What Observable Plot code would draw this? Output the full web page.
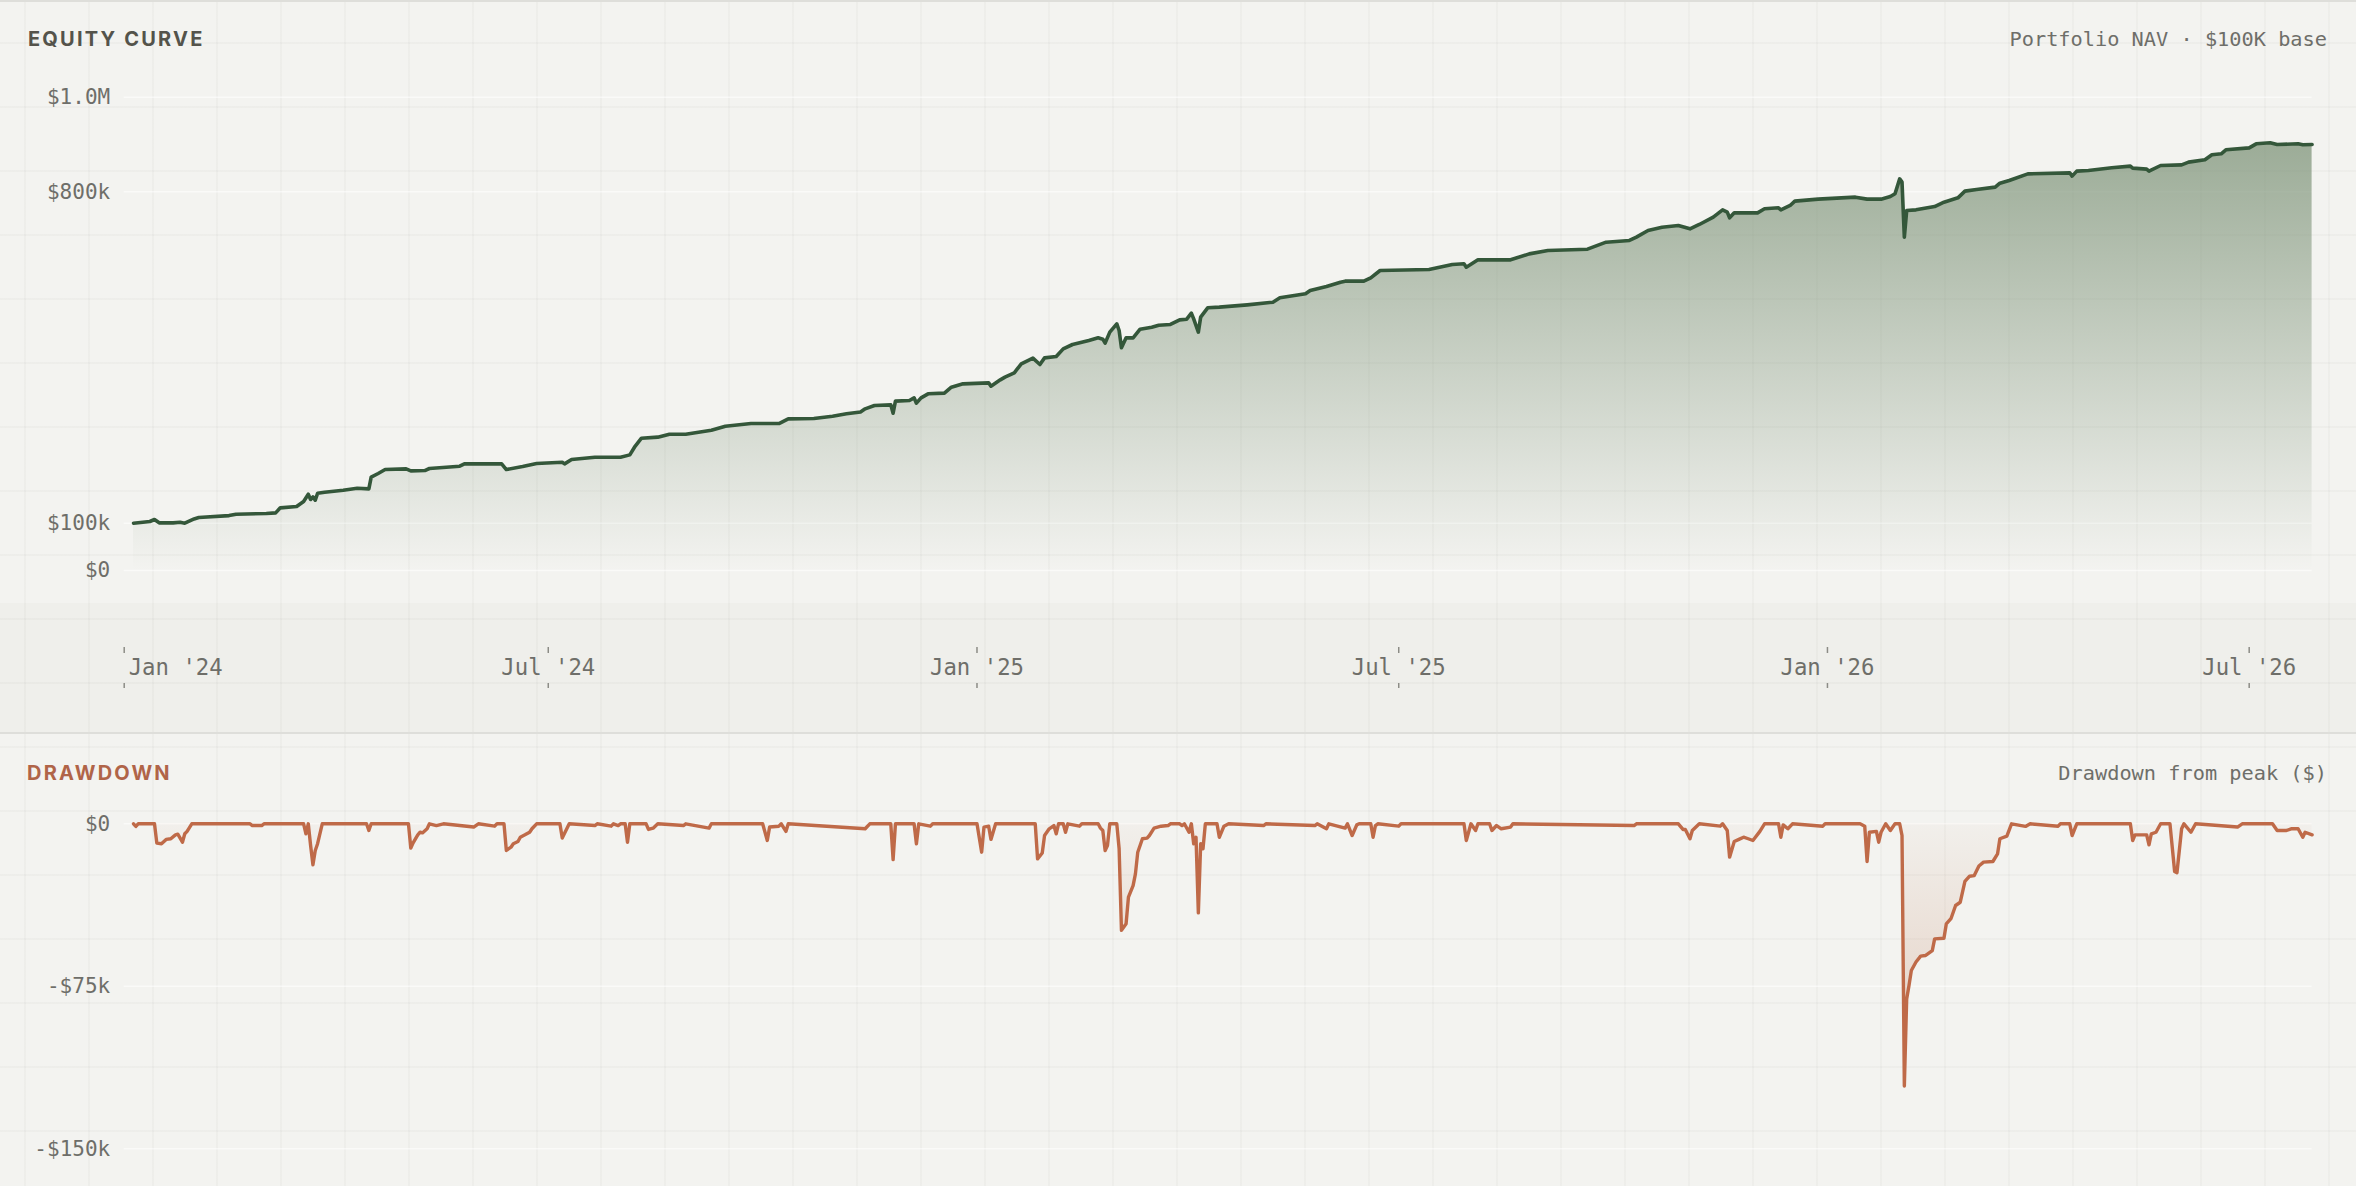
<!DOCTYPE html>
<html>
<head>
<meta charset="utf-8">
<script src="https://cdn.jsdelivr.net/npm/d3@7"></script>
<script src="https://cdn.jsdelivr.net/npm/@observablehq/plot@0.6"></script>
<style>
  html, body { margin: 0; padding: 0; width: 2356px; height: 1186px; overflow: hidden; }
  body {
    position: relative;
    background-color: #f3f3f0;
    background-image:
      linear-gradient(to right, rgba(60,60,40,0.028) 0, rgba(60,60,40,0.028) 2px, transparent 2px),
      linear-gradient(to bottom, rgba(60,60,40,0.028) 0, rgba(60,60,40,0.028) 2px, transparent 2px);
    background-size: 64px 64px;
    background-position: 24px 42px;
    font-family: "DejaVu Sans Mono", monospace;
  }
  .abs { position: absolute; }
  .title { font-family: Inter, "Noto Sans", sans-serif; font-weight: 700; font-size: 20px; letter-spacing: 2.2px; line-height: 1; white-space: nowrap; }
  .sub { font-family: "DejaVu Sans Mono", monospace; font-size: 20.3px; color: #6e6e69; line-height: 1; white-space: nowrap; }
  .rule { left: 0; width: 2356px; height: 2px; background: #dededa; }
</style>
</head>
<body>
<div class="abs rule" style="top:0"></div>
<div class="abs title" style="left:28px; top:29px; color:#54534b">EQUITY CURVE</div>
<div class="abs sub" style="right:29px; top:29px">Portfolio NAV · $100K base</div>
<div class="abs" id="equity" style="left:0; top:50px; width:2356px; height:553px"></div>
<div class="abs" style="left:0; top:603px; width:2356px; height:129px; background:rgba(40,40,20,0.018)"></div>
<div class="abs" id="band" style="left:0; top:603px; width:2356px; height:129px"></div>
<div class="abs rule" style="top:732px"></div>
<div class="abs title" style="left:27px; top:763px; color:#b06448">DRAWDOWN</div>
<div class="abs sub" style="right:29px; top:763px">Drawdown from peak ($)</div>
<div class="abs" id="drawdown" style="left:0; top:735px; width:2356px; height:451px"></div>

<script>
// ---------- DATA ----------
const xDomainDates = ["2024-01-01", "2026-07-28"];

const xTickDates = ["2024-01-01", "2024-07-01", "2025-01-01", "2025-07-01", "2026-01-01", "2026-07-01"];
const xTickLabels = ["Jan '24", "Jul '24", "Jan '25", "Jul '25", "Jan '26", "Jul '26"];

const equityTicks = [0, 100000, 800000, 1000000];
const equityTickLabels = ["$0", "$100k", "$800k", "$1.0M"];

const drawdownTicks = [0, -75000, -150000];
const drawdownTickLabels = ["$0", "-$75k", "-$150k"];

// Portfolio NAV, in $ thousands
const equityDates = [
  "2024-01-05","2024-01-12","2024-01-14","2024-01-16","2024-01-22","2024-01-25","2024-01-27","2024-01-31",
  "2024-02-02","2024-02-15","2024-02-18",
  "2024-03-02","2024-03-06","2024-03-08","2024-03-15","2024-03-18","2024-03-20","2024-03-21","2024-03-22","2024-03-23","2024-03-24","2024-03-27",
  "2024-04-04","2024-04-10","2024-04-15","2024-04-16","2024-04-19","2024-04-22",
  "2024-05-01","2024-05-03","2024-05-09","2024-05-11","2024-05-24","2024-05-26",
  "2024-06-11","2024-06-13","2024-06-20","2024-06-26",
  "2024-07-07","2024-07-08","2024-07-11","2024-07-21",
  "2024-08-01","2024-08-05","2024-08-07","2024-08-10","2024-08-17","2024-08-22","2024-08-29",
  "2024-09-09","2024-09-15","2024-09-26",
  "2024-10-08","2024-10-12","2024-10-23","2024-10-31",
  "2024-11-06","2024-11-12","2024-11-14","2024-11-18","2024-11-25","2024-11-26","2024-11-27",
  "2024-12-03","2024-12-05","2024-12-06","2024-12-08","2024-12-11","2024-12-18","2024-12-21","2024-12-26",
  "2025-01-06","2025-01-07","2025-01-11","2025-01-13","2025-01-17","2025-01-20","2025-01-25","2025-01-28","2025-01-30",
  "2025-02-04","2025-02-07","2025-02-11","2025-02-18","2025-02-22","2025-02-24","2025-02-25","2025-02-27",
  "2025-03-02","2025-03-03","2025-03-04","2025-03-06","2025-03-09","2025-03-12","2025-03-17","2025-03-20","2025-03-25","2025-03-29",
  "2025-04-01","2025-04-03","2025-04-04","2025-04-06","2025-04-07","2025-04-10","2025-04-15","2025-04-27",
  "2025-05-08","2025-05-11","2025-05-22","2025-05-24","2025-05-31",
  "2025-06-06","2025-06-08","2025-06-16","2025-06-19","2025-06-23",
  "2025-07-14","2025-07-24","2025-07-29","2025-07-30",
  "2025-08-04","2025-08-18","2025-08-26",
  "2025-09-03","2025-09-20","2025-09-28",
  "2025-10-08","2025-10-11","2025-10-16","2025-10-22","2025-10-29",
  "2025-11-03","2025-11-07","2025-11-13","2025-11-17","2025-11-19","2025-11-20","2025-11-22",
  "2025-12-02","2025-12-05","2025-12-11","2025-12-12","2025-12-16","2025-12-18","2025-12-28",
  "2026-01-13","2026-01-18","2026-01-24","2026-01-28","2026-01-30",
  "2026-02-01","2026-02-02","2026-02-03","2026-02-04","2026-02-08","2026-02-16","2026-02-20","2026-02-26",
  "2026-03-01","2026-03-06","2026-03-14","2026-03-16","2026-03-20","2026-03-28",
  "2026-04-15","2026-04-16","2026-04-18","2026-04-23",
  "2026-05-03","2026-05-11","2026-05-12","2026-05-18","2026-05-19","2026-05-24",
  "2026-06-02","2026-06-05","2026-06-12","2026-06-15","2026-06-19","2026-06-21",
  "2026-07-01","2026-07-04","2026-07-10","2026-07-13","2026-07-22","2026-07-24","2026-07-28"
];
const equityK = [
  100, 103.5, 107.7, 100.7, 100.7, 102, 100, 109,
  112, 116, 119,
  120.4, 121.8, 132.4, 135.2, 145.7, 161.2, 150, 155.6, 148.5, 163.3, 165.5,
  169.7, 173.9, 172.5, 197.2, 204.9, 213.3,
  214.7, 210.5, 211.2, 215.5, 220.4, 225.3,
  225.3, 213.3, 219.7, 226,
  228.8, 225.3, 234.5, 239.4,
  239.4, 244.3, 260.5, 279.5, 281.7, 288, 288,
  296.5, 304.9, 310.5,
  310.5, 320.4, 321.1, 326,
  331, 335, 341.6, 348.6, 350, 332.4, 357.8,
  359.2, 364.8, 353.5, 364.8, 373.3, 374.7, 387.4, 394.4,
  396.5, 389.5, 402.8, 408.5, 417.6, 436.6, 448.6, 435.2, 449.3,
  452.1, 468.3, 477.5, 486, 491.6, 488.8, 480.3, 503.6,
  521.2, 507.1, 470.5, 491.6, 491.6, 509.9, 514.1, 518.3, 519.8, 529.6,
  531, 543.7, 531.7, 503.6, 535.3, 555, 556.4, 561.3,
  566.9, 576.1, 584.6, 591.6, 600,
  609.2, 611.3, 611.3, 618.4, 633.9,
  636, 646.5, 648, 640.9,
  656.4, 656.4, 669,
  676.1, 678.9, 693.7,
  697.3, 704.3, 718.4, 725.4, 729,
  721.9, 731.1, 746.6, 762, 757.1, 745.2, 755.7,
  755.7, 764.2, 766.3, 762, 771.2, 780.4, 784.6,
  788.8, 784.6, 784.6, 790.2, 795.9,
  827.5, 820.5, 704.3, 760.6, 762, 769, 778.2, 787.4,
  801.5, 805, 810, 818.4, 824.1, 838.1,
  840.2, 833.2, 843.8, 845.2,
  850.8, 854.3, 850.1, 848, 843.8, 855.7,
  857.1, 862.8, 867.7, 878.3, 880.4, 888.8,
  893, 901.5, 903.6, 900.1, 901.5, 899.4, 900.1
];

// Drawdown from peak, in $ thousands
const drawdownDates = [
  "2024-01-05","2024-01-06","2024-01-07","2024-01-14","2024-01-15","2024-01-17","2024-01-19","2024-01-21","2024-01-23","2024-01-24","2024-01-26","2024-01-27","2024-01-28","2024-01-30",
  "2024-02-24","2024-02-25","2024-02-29",
  "2024-03-01","2024-03-18","2024-03-19","2024-03-20","2024-03-21","2024-03-22","2024-03-23","2024-03-24","2024-03-26",
  "2024-04-14","2024-04-15","2024-04-16",
  "2024-05-02","2024-05-03","2024-05-04","2024-05-06","2024-05-07","2024-05-08","2024-05-10","2024-05-11","2024-05-14","2024-05-17","2024-05-30",
  "2024-06-01","2024-06-08","2024-06-09","2024-06-12","2024-06-13","2024-06-15","2024-06-16","2024-06-18","2024-06-19","2024-06-21","2024-06-23","2024-06-24","2024-06-26",
  "2024-07-06","2024-07-07","2024-07-10","2024-07-21","2024-07-22","2024-07-28","2024-07-29","2024-07-31",
  "2024-08-01","2024-08-03","2024-08-04","2024-08-05","2024-08-12","2024-08-13","2024-08-15","2024-08-17","2024-08-28","2024-08-29",
  "2024-09-08","2024-09-09",
  "2024-10-01","2024-10-03","2024-10-04","2024-10-08","2024-10-09","2024-10-11","2024-10-12",
  "2024-11-14","2024-11-16","2024-11-25","2024-11-26","2024-11-27",
  "2024-12-05","2024-12-06","2024-12-07","2024-12-12","2024-12-13",
  "2025-01-01","2025-01-03","2025-01-04","2025-01-06","2025-01-07","2025-01-09","2025-01-26","2025-01-27","2025-01-29","2025-01-30",
  "2025-02-01","2025-02-03","2025-02-04","2025-02-05","2025-02-07","2025-02-08","2025-02-09","2025-02-14","2025-02-15","2025-02-22","2025-02-23","2025-02-24","2025-02-25","2025-02-26","2025-02-27",
  "2025-03-02","2025-03-03","2025-03-04","2025-03-06","2025-03-07","2025-03-09","2025-03-10","2025-03-11","2025-03-13","2025-03-15","2025-03-16","2025-03-18","2025-03-21","2025-03-24","2025-03-25","2025-03-29","2025-03-30","2025-03-31",
  "2025-04-02","2025-04-03","2025-04-04","2025-04-05","2025-04-06","2025-04-07","2025-04-08","2025-04-09","2025-04-14","2025-04-15","2025-04-17","2025-04-19",
  "2025-05-04","2025-05-05","2025-05-26","2025-05-27","2025-05-31",
  "2025-06-01","2025-06-08","2025-06-09","2025-06-11","2025-06-13","2025-06-14","2025-06-19","2025-06-20","2025-06-21","2025-06-22",
  "2025-07-01","2025-07-02","2025-07-29","2025-07-30",
  "2025-08-01","2025-08-03","2025-08-04","2025-08-09","2025-08-10","2025-08-12","2025-08-14","2025-08-18","2025-08-19",
  "2025-10-10","2025-10-11","2025-10-29","2025-10-31",
  "2025-11-01","2025-11-03","2025-11-04","2025-11-07","2025-11-16","2025-11-17","2025-11-19","2025-11-20","2025-11-22","2025-11-24","2025-11-26","2025-11-28","2025-11-30",
  "2025-12-03","2025-12-05","2025-12-11","2025-12-12","2025-12-13","2025-12-15","2025-12-17","2025-12-30","2025-12-31",
  "2026-01-15","2026-01-17","2026-01-18","2026-01-19","2026-01-22","2026-01-23","2026-01-24","2026-01-26","2026-01-28","2026-01-30",
  "2026-02-01","2026-02-02","2026-02-03","2026-02-04","2026-02-05","2026-02-06","2026-02-08","2026-02-10","2026-02-12","2026-02-15","2026-02-16","2026-02-20","2026-02-21","2026-02-23","2026-02-25","2026-02-27",
  "2026-03-01","2026-03-03","2026-03-05","2026-03-07","2026-03-09","2026-03-13","2026-03-15","2026-03-16","2026-03-19","2026-03-21","2026-03-27","2026-03-29",
  "2026-04-10","2026-04-11","2026-04-15","2026-04-16","2026-04-18",
  "2026-05-11","2026-05-12","2026-05-13","2026-05-18","2026-05-19","2026-05-20","2026-05-22","2026-05-24","2026-05-28","2026-05-30","2026-05-31",
  "2026-06-02","2026-06-03","2026-06-06","2026-06-08","2026-06-26","2026-06-28",
  "2026-07-11","2026-07-13","2026-07-17","2026-07-19","2026-07-22","2026-07-24","2026-07-25","2026-07-28"
];
const drawdownK = [
  0, -1.2, 0, 0, -8.9, -9.2, -7.2, -6.9, -5.1, -4.8, -8.5, -4.6, -3.5, 0,
  0, -0.8, -0.8,
  0, 0, -4.6, 0, -10, -18.9, -12.3, -9.2, 0,
  0, -3.1, 0,
  0, -11.2, -8.8, -5.1, -3.9, -4.2, -2.3, 0, -0.8, 0, -1.5,
  0, -1.1, 0, 0, -12.3, -10.8, -9.2, -8.2, -6.2, -5.1, -3.9, -2.3, 0,
  0, -6.6, 0, -0.8, 0, -1.1, 0, -0.8,
  0, 0, -8.5, 0, 0, -2.6, -2.0, 0, -0.8, 0,
  -2.0, 0,
  0, -7.7, -1.5, -1.1, 0, -3.5, 0,
  -2.3, 0, 0, -16.5, 0,
  0, -9.2, 0, -1.1, 0,
  0, -13.1, -1.5, -1.1, -7.2, 0, 0, -16.2, -13.5, -5.4,
  -2.3, -0.8, -4.6, 0, 0, -3.9, 0, -1.1, 0, 0, -2.0, -3.1, -12.3, -10, 0,
  0, -11.5, -49.2, -46.1, -33.8, -28.5, -23.1, -13.1, -6.9, -6.6, -5.4, -2.0, -1.1, -0.8, 0, 0, -0.8, 0,
  -3.9, 0, -9.2, -6.2, -41.1, -9.2, -11.5, 0, 0, -6.2, -1.1, 0,
  -0.8, 0, -0.8, 0, -2.3,
  0, -2.0, 0, -5.4, -0.5, 0, 0, -6.2, -0.8, 0,
  -1.1, 0, 0, -7.7,
  0, -3.1, 0, 0, -3.1, -0.8, -2.3, -1.5, 0,
  -0.8, 0, 0, -2.6,
  -2.6, -6.9, -3.1, 0, -1.1, 0, -3.1, -15.4, -8.2, -7.2, -6.2, -6.9, -7.7,
  -3.5, 0, 0, -6.2, -0.5, -2.3, 0, -1.1, 0,
  0, -1.1, -17.4, -3.9, -3.5, -8.5, -3.9, 0, -3.1, 0,
  0, -5.4, -121, -80.8, -74.6, -67.7, -63.8, -61.1, -60.8, -58.5, -53.1, -52.8, -46.2, -43.8, -37.7, -36.2,
  -26.6, -24.2, -23.9, -19.5, -17.7, -17.4, -13.9, -6.9, -5.7, 0, -1.2, 0,
  -1.1, 0, 0, -5.4, 0,
  0, -7.7, -5.1, -5.1, -9.7, -4.6, -3.9, 0, 0, -22.0, -22.6,
  -2.3, 0, -3.9, 0, -1.5, 0,
  0, -3.1, -3.1, -2.3, -2.3, -6.2, -3.9, -5.1
];

// ---------- BUILD ----------
const parse = d3.utcParse("%Y-%m-%d");
const equity = equityDates.map((d, i) => ({date: parse(d), value: equityK[i] * 1000}));
const drawdown = drawdownDates.map((d, i) => ({date: parse(d), value: drawdownK[i] * 1000}));
const xTicks = xTickDates.map((d, i) => ({date: parse(d), label: xTickLabels[i]}));
const xDomain = xDomainDates.map(parse);
const eqLabel = new Map(equityTicks.map((t, i) => [t, equityTickLabels[i]]));
const ddLabel = new Map(drawdownTicks.map((t, i) => [t, drawdownTickLabels[i]]));

const W = 2356, ML = 123.7, MR = 44.4;
const MONO = "DejaVu Sans Mono, monospace";
const TEXT = "#6e6e69";
const baseStyle = {background: "transparent", fontFamily: MONO, fontSize: "21px", color: TEXT, overflow: "visible"};

function gradient(id, stops) {
  return () => {
    const ns = "http://www.w3.org/2000/svg";
    const defs = document.createElementNS(ns, "defs");
    const g = document.createElementNS(ns, "linearGradient");
    g.setAttribute("id", id);
    g.setAttribute("x1", "0"); g.setAttribute("y1", "0");
    g.setAttribute("x2", "0"); g.setAttribute("y2", "1");
    for (const [off, color, op] of stops) {
      const s = document.createElementNS(ns, "stop");
      s.setAttribute("offset", off);
      s.setAttribute("stop-color", color);
      s.setAttribute("stop-opacity", op);
      g.appendChild(s);
    }
    defs.appendChild(g);
    return defs;
  };
}

const eqChart = Plot.plot({
  width: W, height: 553,
  marginLeft: ML, marginRight: MR, marginTop: 46.7, marginBottom: 33,
  style: baseStyle,
  x: {type: "utc", domain: xDomain, axis: null},
  y: {domain: [0, 1000000], axis: null},
  marks: [
    gradient("eqGrad", [[0, "#7d9378", 0.74], [1, "#7d9378", 0]]),
    Plot.gridY(equityTicks, {stroke: "#ffffff", strokeOpacity: 0.55, strokeWidth: 1.5}),
    Plot.areaY(equity, {x: "date", y: "value", fill: "url(#eqGrad)"}),
    Plot.lineY(equity, {x: "date", y: "value", stroke: "#34573a", strokeWidth: 3.6, strokeLinejoin: "round", strokeLinecap: "round"}),
    Plot.axisY(equityTicks, {label: null, tickSize: 0, tickPadding: 14, tickFormat: d => eqLabel.get(d), fontSize: 21, fill: TEXT})
  ]
});
document.getElementById("equity").appendChild(eqChart);

const bandChart = Plot.plot({
  width: W, height: 129,
  marginLeft: ML, marginRight: MR, marginTop: 44, marginBottom: 44,
  style: baseStyle,
  x: {type: "utc", domain: xDomain, axis: null},
  marks: [
    Plot.tickX(xTicks, {x: "date", stroke: "#8c8c86", strokeWidth: 1.5, insetBottom: 35}),
    Plot.tickX(xTicks, {x: "date", stroke: "#8c8c86", strokeWidth: 1.5, insetTop: 36}),
    Plot.text(xTicks.slice(0, 1), {x: "date", text: "label", frameAnchor: "middle", textAnchor: "start", dx: 4.5, fontSize: 22.3, fill: TEXT}),
    Plot.text(xTicks.slice(1), {x: "date", text: "label", frameAnchor: "middle", fontSize: 22.3, fill: TEXT})
  ]
});
document.getElementById("band").appendChild(bandChart);

const ddChart = Plot.plot({
  width: W, height: 451,
  marginLeft: ML, marginRight: MR, marginTop: 88.3, marginBottom: 37.7,
  style: baseStyle,
  x: {type: "utc", domain: xDomain, axis: null},
  y: {domain: [-150000, 0], axis: null},
  marks: [
    gradient("ddGrad", [[0, "#c07a55", 0.03], [1, "#c07a55", 0.32]]),
    Plot.gridY(drawdownTicks, {stroke: "#ffffff", strokeOpacity: 0.55, strokeWidth: 1.5}),
    Plot.areaY(drawdown, {x: "date", y: "value", fill: "url(#ddGrad)"}),
    Plot.lineY(drawdown, {x: "date", y: "value", stroke: "#bf6a48", strokeWidth: 3.4, strokeLinejoin: "round", strokeLinecap: "round"}),
    Plot.axisY(drawdownTicks, {label: null, tickSize: 0, tickPadding: 14, tickFormat: d => ddLabel.get(d), fontSize: 21, fill: TEXT})
  ]
});
document.getElementById("drawdown").appendChild(ddChart);
</script>
</body>
</html>
